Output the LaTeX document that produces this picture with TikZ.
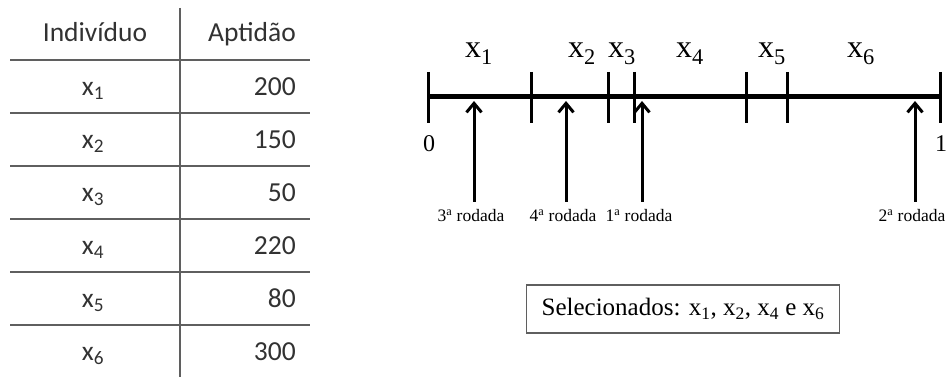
\documentclass[tikz,border=0pt]{standalone}
\usepackage{fontspec}
\setmainfont{Liberation Serif}
\newfontfamily\calib{Carlito}
\usetikzlibrary{arrows.meta}
\definecolor{tline}{RGB}{95,95,95}
\definecolor{ttext}{RGB}{50,50,50}
\tikzset{
  tabline/.style={draw=tline, line width=2pt},
  tabtxt/.style={font=\calib\fontsize{27.5}{30}\selectfont, text=ttext, inner sep=0pt, anchor=base},
  mainline/.style={line width=5pt},
  tickmark/.style={line width=3pt},
  seglabel/.style={font=\fontsize{32}{36}\selectfont, inner sep=0pt, anchor=base},
  endlabel/.style={font=\fontsize{24}{28}\selectfont, inner sep=0pt},
  pointer/.style={line width=3pt, -{Straight Barb[length=9pt,width=15pt,line width=3pt]}},
  roundlabel/.style={font=\fontsize{17.5}{20}\selectfont, inner sep=0pt},
  selbox/.style={draw=tline, line width=1.6pt, font=\fontsize{25}{30}\selectfont, minimum width=313pt, minimum height=48pt, inner sep=0pt}
}
\begin{document}
\begin{tikzpicture}[x=1pt,y=-1pt]
\useasboundingbox (0,0) rectangle (952,379);
% table
\coordinate (vt) at (180,8);
\coordinate (vb) at (180,377);
\draw[tabline] (vt) -- (vb);
\foreach \yy [count=\i] in {60,113,166,219,272,325}{
  \coordinate (hl\i) at (10,\yy);
  \coordinate (hr\i) at (310,\yy);
  \draw[tabline] (hl\i) -- (hr\i);
}
\node[tabtxt] (hind) at (95,42) {Indivíduo};
\node[tabtxt, anchor=base east] (hapt) at (296,42) {Aptidão};
\foreach \v [count=\i] in {200,150,50,220,80,300}{
  \pgfmathsetmacro{\yb}{86.5+53*(\i-1)+9}
  \node[tabtxt] (ind\i) at (93,\yb) {x\textsubscript{\i}};
  \node[tabtxt, anchor=base east] (apt\i) at (296,\yb) {\v};
}
% number line
\coordinate (L0) at (428,97);
\coordinate (L1) at (940,97);
\draw[mainline] (L0) -- (L1);
\foreach \xx [count=\i] in {428,531,608,634,746,787,940}{
  \coordinate (tt\i) at (\xx,72);
  \coordinate (tb\i) at (\xx,123);
  \draw[tickmark] (tt\i) -- (tb\i);
}
\node[seglabel] (s1) at (479,58) {x\textsubscript{1}};
\node[seglabel] (s2) at (582,58) {x\textsubscript{2}};
\node[seglabel] (s3) at (622,58) {x\textsubscript{3}};
\node[seglabel] (s4) at (690,58) {x\textsubscript{4}};
\node[seglabel] (s5) at (772,58) {x\textsubscript{5}};
\node[seglabel] (s6) at (861,58) {x\textsubscript{6}};
\node[endlabel] (zero) at (429,144) {0};
\node[endlabel] (one) at (941,144) {1};
% arrows
\foreach \xx/\lab/\nm in {474/3/a3, 566/4/a4, 642/1/a1, 915/2/a2}{
  \coordinate (\nm b) at (\xx,202);
  \coordinate (\nm t) at (\xx,101);
  \draw[pointer] (\nm b) -- (\nm t);
  \node[roundlabel] (\nm l) at (\xx-3,216) {\lab\textsuperscript{a} rodada};
}
% selection box
\node[selbox] (sel) at (683,309) {Selecionados: x\textsubscript{1}, x\textsubscript{2}, x\textsubscript{4} e x\textsubscript{6}};
\end{tikzpicture}
\end{document}
